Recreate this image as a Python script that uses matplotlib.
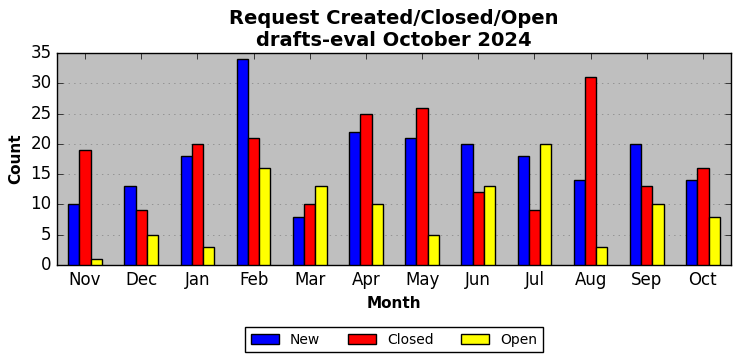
import matplotlib
matplotlib.use("Agg")
import matplotlib.pyplot as plt
import numpy as np

plt.style.use("classic")

months = ["Nov", "Dec", "Jan", "Feb", "Mar", "Apr", "May", "Jun", "Jul", "Aug", "Sep", "Oct"]
new = [10, 13, 18, 34, 8, 22, 21, 20, 18, 14, 20, 14]
closed = [19, 9, 20, 21, 10, 25, 26, 12, 9, 31, 13, 16]
opened = [1, 5, 3, 16, 13, 10, 5, 13, 20, 3, 10, 8]

fig = plt.figure(figsize=(7.41, 3.61), dpi=100, facecolor="white")
ax = fig.add_axes([57 / 741, 1 - 265 / 361, 674 / 741, 212 / 361])
ax.set_facecolor("#bfbfbf")

x = np.arange(len(months))
w = 0.2
ax.bar(x - w, new, w, align="center", color="blue", edgecolor="black", label="New", zorder=3)
ax.bar(x, closed, w, align="center", color="red", edgecolor="black", label="Closed", zorder=3)
ax.bar(x + w, opened, w, align="center", color="yellow", edgecolor="black", label="Open", zorder=3)

ax.set_xlim(-0.5, len(months) - 0.5)
ax.set_ylim(0, 35)
ax.set_xticks(x)
ax.set_xticklabels(months)
ax.set_yticks(range(0, 36, 5))
ax.grid(axis="y", linestyle=":", color="gray", zorder=0)
ax.set_axisbelow(True)

ax.set_xlabel("Month", fontweight="bold", fontsize=11)
ax.set_ylabel("Count", fontweight="bold", fontsize=11)
ax.set_title("Request Created/Closed/Open\ndrafts-eval October 2024", fontweight="bold", fontsize=14)

ax.legend(loc="upper center", bbox_to_anchor=(0.5, -0.26), ncol=3, fontsize=10,
          fancybox=False, handlelength=2.0, columnspacing=2.0)

fig.savefig("out.png", dpi=100, facecolor="white")
